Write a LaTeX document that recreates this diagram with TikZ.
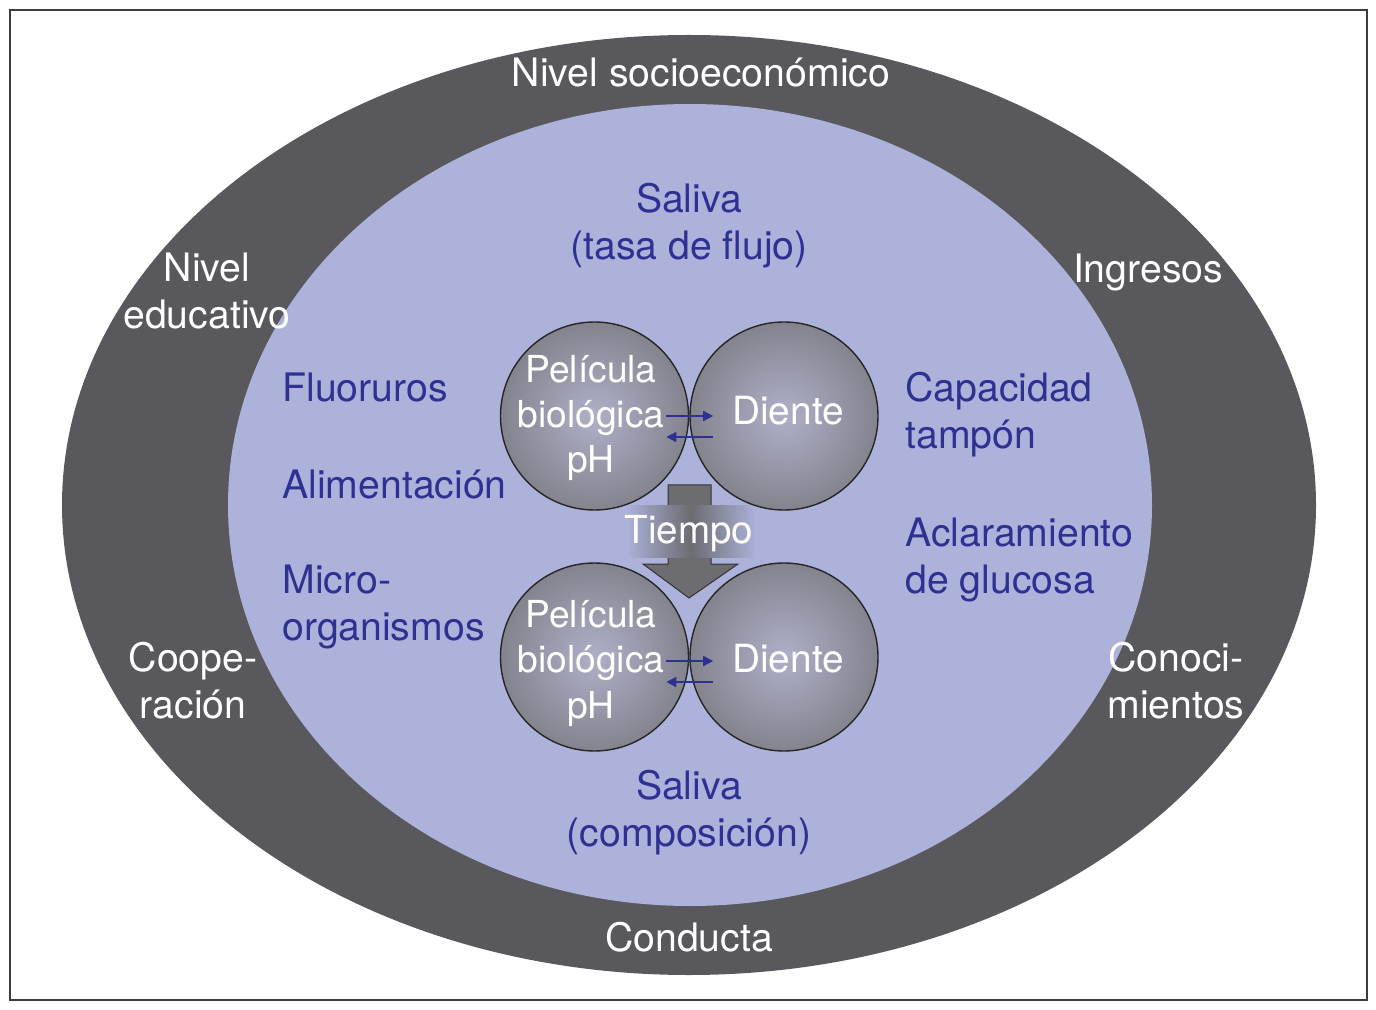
\documentclass[tikz,border=0pt]{standalone}
\usepackage{fontspec}
\setmainfont{TeX Gyre Heros}
\usetikzlibrary{arrows.meta,calc}
\definecolor{ringgray}{RGB}{89,88,93}
\definecolor{lav}{RGB}{172,178,218}
\definecolor{bluetxt}{RGB}{46,49,146}
\definecolor{ballin}{RGB}{174,176,200}
\definecolor{ballmid}{RGB}{130,130,140}
\definecolor{ballout}{RGB}{92,92,98}
\definecolor{arrowgray}{RGB}{108,108,113}
\definecolor{framegray}{RGB}{60,60,60}
\pgfdeclareradialshading{ballshade}{\pgfpoint{0bp}{0bp}}{color(0bp)=(ballin); color(26bp)=(ballmid); color(50bp)=(ballout); color(72bp)=(ballout)}
\tikzset{
  mainfont/.style={font=\fontsize{19.6}{23.5}\selectfont},
  bluelbl/.style={mainfont, text=bluetxt, inner sep=0pt, align=left, anchor=base west},
  ringlbl/.style={mainfont, text=white, inner sep=0pt, align=center, anchor=base},
  ctrlbl/.style={mainfont, text=bluetxt, inner sep=0pt, align=center, anchor=base},
  ball/.style={circle, draw=black!85, line width=0.7pt, shading=ballshade, minimum size=94pt, inner sep=0pt},
  balltxt/.style={font=\fontsize{18.6}{22.6}\selectfont, text=white, inner sep=0pt, align=center, anchor=base},
  flow/.style={draw=bluetxt, line width=0.8pt, -{Triangle[length=5pt,width=5pt]}},
  timearrow/.style={fill=arrowgray, draw=black!80, line width=0.5pt},
}
\begin{document}
\begin{tikzpicture}[x=0.5pt,y=-0.5pt]
\useasboundingbox (0,0) rectangle (1376,1010);
\draw[framegray, line width=1pt] (10,10) rectangle (1367,1000);
% rings
\fill[ringgray] (689,505) ellipse [x radius=627, y radius=470];
\fill[lav] (690,505) ellipse [x radius=462, y radius=401];
% outer labels (anchor = baseline of last line)
\node[ringlbl] (socio) at (701,87) {Nivel socioeconómico};
\node[ringlbl] (educ) at (207,329) {Nivel\\educativo};
\node[ringlbl] (ingr) at (1148,283) {Ingresos};
\node[ringlbl] (coop) at (193,718) {Coope-\\ración};
\node[ringlbl] (conoc) at (1176,718) {Conoci-\\mientos};
\node[ringlbl] (cond) at (689,951) {Conducta};
% inner labels
\node[ctrlbl] (saltop) at (689,260) {Saliva\\(tasa de flujo)};
\node[ctrlbl] (salbot) at (689,846) {Saliva\\(composición)};
\node[bluelbl] (fluor) at (282,402) {Fluoruros};
\node[bluelbl] (alim) at (282,498) {Alimentación};
\node[bluelbl] (micro) at (282,640) {Micro-\\organismos};
\node[bluelbl] (capac) at (905,449) {Capacidad\\tampón};
\node[bluelbl] (aclar) at (905,593) {Aclaramiento\\de glucosa};
% time arrow
\path[timearrow] (668,485) -- (711,485) -- (711,564) -- (738,564) -- (689,598) -- (643,564) -- (668,564) -- cycle;
\fill[left color=lav, right color=lav, middle color=arrowgray] (626,505) rectangle (756,557);
\node[ringlbl, font=\fontsize{19.3}{23}\selectfont] (tiempo) at (689,543) {Tiempo};
% balls
\node[ball] (pel1) at (594.5,416) {};
\node[ball] (die1) at (784,416) {};
\node[ball] (pel2) at (594.5,657) {};
\node[ball] (die2) at (784,657) {};
\node[balltxt] (pel1t) at (591,473) {Película\\biológica\\pH};
\node[balltxt, font=\fontsize{19.4}{23}\selectfont] (die1t) at (788,425) {Diente};
\node[balltxt] (pel2t) at (591,718) {Película\\biológica\\pH};
\node[balltxt, font=\fontsize{19.4}{23}\selectfont] (die2t) at (788,672) {Diente};
% exchange arrows
\draw[flow] ([shift={(-23,0)}]pel1.east) -- ([shift={(24,0)}]pel1.east);
\draw[flow] ([shift={(24,21)}]die1.west) -- ([shift={(-23,21)}]die1.west);
\draw[flow] ([shift={(-23,4)}]pel2.east) -- ([shift={(24,4)}]pel2.east);
\draw[flow] ([shift={(24,25)}]die2.west) -- ([shift={(-23,25)}]die2.west);
\end{tikzpicture}
\end{document}
